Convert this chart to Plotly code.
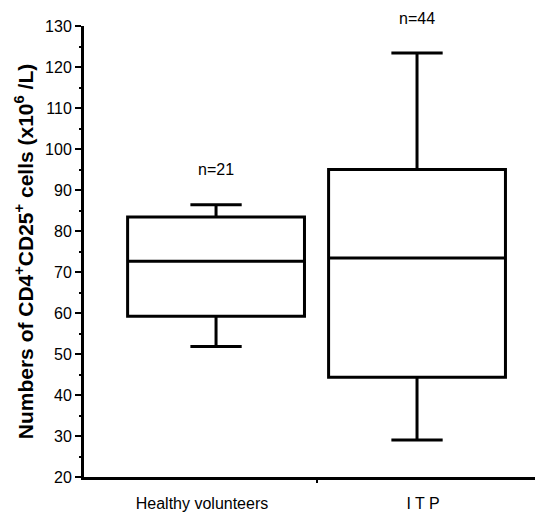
import plotly.graph_objects as go

# ---- data ----
categories = ["Healthy volunteers", "I T P"]
n_counts = [21, 44]
lower_whisker = [51.8, 29.0]
q1_values = [59.2, 44.3]
median_values = [72.6, 73.4]
q3_values = [83.4, 95.0]
upper_whisker = [86.4, 123.4]

y_ticks = [20, 30, 40, 50, 60, 70, 80, 90, 100, 110, 120, 130]

FONT = "Liberation Sans, Arial, Helvetica, sans-serif"

fig = go.Figure()
for i, cat in enumerate(categories):
    fig.add_trace(go.Box(
        x=[i],
        name=cat,
        q1=[q1_values[i]],
        median=[median_values[i]],
        q3=[q3_values[i]],
        lowerfence=[lower_whisker[i]],
        upperfence=[upper_whisker[i]],
        width=0.88,
        whiskerwidth=0.29,
        fillcolor="white",
        line=dict(color="black", width=3),
        boxpoints=False,
        showlegend=False,
        hoverinfo="skip",
    ))
    fig.add_annotation(
        x=i, y=upper_whisker[i], xref="x", yref="y",
        text=f"n={n_counts[i]}", showarrow=False,
        yanchor="middle", yshift=35,
        font=dict(family=FONT, size=16, color="black"),
    )

# invisible trace on overlay axis so it renders
fig.add_trace(go.Scatter(x=[0.5], y=[None], xaxis="x2", yaxis="y",
                         showlegend=False, hoverinfo="skip", mode="markers"))

xr = [-0.657, 1.587]
fig.update_layout(
    width=538, height=517,
    margin=dict(l=84, r=3, t=26, b=40),
    plot_bgcolor="white", paper_bgcolor="white",
    font=dict(family=FONT, color="black"),
    xaxis=dict(
        range=xr, showgrid=False, zeroline=False, automargin=False,
        showline=True, linecolor="black", linewidth=3,
        tickmode="array", tickvals=[-0.07, 1.03], ticktext=categories,
        ticks="", tickfont=dict(family=FONT, size=16, color="black"),
        ticklabelstandoff=10,
    ),
    xaxis2=dict(
        range=xr, overlaying="x", anchor="y", side="bottom", automargin=False,
        showgrid=False, zeroline=False, showline=False,
        tickmode="array", tickvals=[0.5], ticks="outside",
        ticklen=5, tickwidth=2, tickcolor="black", showticklabels=False,
    ),
    yaxis=dict(
        range=[20, 130], showgrid=False, zeroline=False, automargin=False,
        showline=True, linecolor="black", linewidth=3,
        tickmode="array", tickvals=y_ticks,
        ticks="outside", ticklen=6, tickwidth=2, tickcolor="black",
        tickfont=dict(family=FONT, size=16, color="black"),
        minor=dict(dtick=5, ticks="outside", ticklen=2, tickwidth=2, tickcolor="black"),
        title=dict(
            text="Numbers of CD4<sup>+</sup>CD25<sup>+</sup> cells (x10<sup>6</sup> /L)",
            font=dict(family=FONT, size=21, color="black", weight="bold"),
            standoff=6,
        ),
    ),
)

fig.write_html(
    "out.html",
    config={"displayModeBar": False},
    post_script="document.body.style.margin='0px';document.body.style.overflow='hidden';",
)
